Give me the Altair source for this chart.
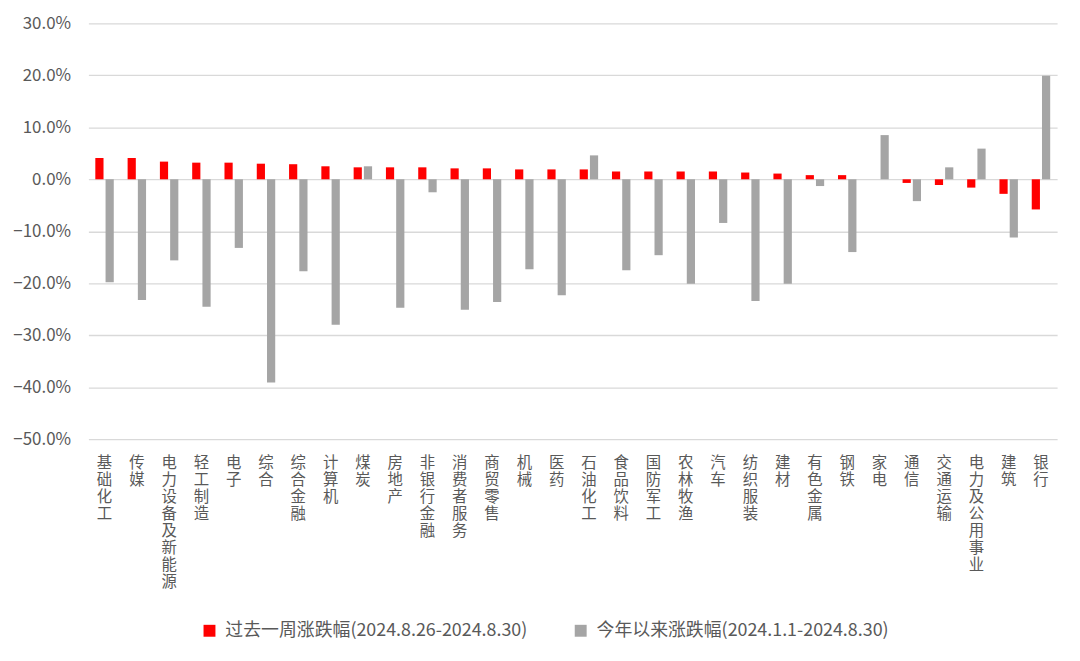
import altair as alt
import pandas as pd

categories = ["基础化工", "传媒", "电力设备及新能源", "轻工制造", "电子", "综合", "综合金融", "计算机",
              "煤炭", "房地产", "非银行金融", "消费者服务", "商贸零售", "机械", "医药", "石油化工",
              "食品饮料", "国防军工", "农林牧渔", "汽车", "纺织服装", "建材", "有色金属", "钢铁",
              "家电", "通信", "交通运输", "电力及公用事业", "建筑", "银行"]
week = [4.1, 4.1, 3.4, 3.2, 3.2, 3.0, 2.9, 2.5,
        2.3, 2.3, 2.3, 2.1, 2.1, 1.9, 1.9, 1.9,
        1.5, 1.5, 1.5, 1.5, 1.3, 1.1, 0.8, 0.8,
        0.0, -0.7, -1.1, -1.6, -2.8, -5.8]
ytd = [-19.8, -23.2, -15.6, -24.5, -13.2, -39.1, -17.7, -28.0,
       2.5, -24.7, -2.5, -25.1, -23.6, -17.3, -22.3, 4.6,
       -17.5, -14.6, -20.1, -8.4, -23.4, -20.1, -1.3, -14.0,
       8.5, -4.2, 2.3, 5.9, -11.2, 19.9]
series = ["过去一周涨跌幅(2024.8.26-2024.8.30)", "今年以来涨跌幅(2024.1.1-2024.8.30)"]
colors = ["#FF0000", "#A5A5A5"]

rows = []
for c, w, y in zip(categories, week, ytd):
    rows.append({"cat": c, "series": series[0], "v": w / 100})
    rows.append({"cat": c, "series": series[1], "v": y / 100})
df = pd.DataFrame(rows)

font = "Noto Sans CJK SC"
legend_font = "Liberation Sans Narrow, Noto Sans CJK SC"

chart = alt.Chart(df).mark_bar().encode(
    x=alt.X("cat:N", sort=categories, title=None,
            scale=alt.Scale(paddingInner=0, paddingOuter=0),
            axis=alt.Axis(labelAngle=0, labelExpr="split(datum.label, '')", labelLineHeight=17,
                          labelBaseline="top", labelAlign="center", labelPadding=17,
                          ticks=False, domain=False, labelFontSize=15.5, labelColor="#595959",
                          labelFont=font, grid=False)),
    xOffset=alt.XOffset("series:N", sort=series,
                        scale=alt.Scale(paddingInner=0.2, paddingOuter=0.675)),
    y=alt.Y("v:Q", title=None,
            scale=alt.Scale(domain=[-0.5, 0.3], nice=False, zero=False),
            axis=alt.Axis(format=".1%", values=[-0.5, -0.4, -0.3, -0.2, -0.1, 0, 0.1, 0.2, 0.3],
                          ticks=False, domain=False, gridColor="#D9D9D9", gridWidth=1.3,
                          labelFontSize=17, labelColor="#595959", labelFont=font, labelPadding=18)),
    color=alt.Color("series:N", sort=series,
                    scale=alt.Scale(domain=series, range=colors),
                    legend=alt.Legend(title=None, orient="none", direction="horizontal",
                                      legendX=113, legendY=603, symbolType="square", symbolSize=144,
                                      symbolStrokeWidth=0, labelFontSize=18, labelColor="#595959",
                                      labelFont=legend_font, columnPadding=44, labelOffset=7,
                                      labelLimit=500)),
).properties(
    width=976, height=419,
    autosize=alt.AutoSizeParams(type="none"),
    padding={"left": 81, "top": 13, "right": 15, "bottom": 220},
).configure_view(stroke=None)

chart.save("out.html", embed_options={"renderer": "svg", "actions": False})
